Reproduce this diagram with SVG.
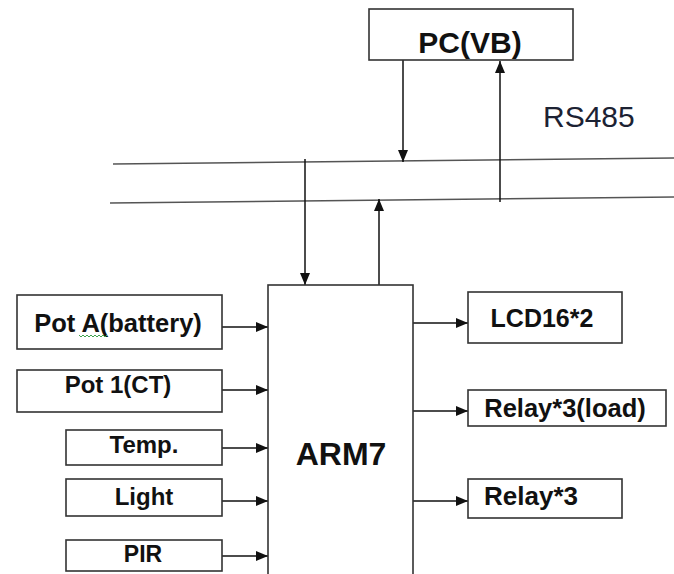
<svg xmlns="http://www.w3.org/2000/svg" width="674" height="574" viewBox="0 0 674 574">
<defs>
<style>
.box{fill:#fff;stroke:#333;stroke-width:1.6}
.ln{stroke:#111;stroke-width:1.5;fill:none}
.bus{stroke:#555;stroke-width:1.5;fill:none}
.t{font-family:"Liberation Sans",Arial,sans-serif;font-weight:bold;fill:#111;text-anchor:middle}
</style>
<marker id="ah" viewBox="0 0 12 10" refX="12" refY="5" markerWidth="12" markerHeight="10" markerUnits="userSpaceOnUse" orient="auto">
<path d="M0,0 L12,5 L0,10 z" fill="#111"/>
</marker>
</defs>
<rect width="674" height="574" fill="#fff"/>
<g id="connectors">
<line class="bus" x1="113" y1="164" x2="674" y2="158"/>
<line class="bus" x1="110" y1="203" x2="674" y2="197"/>
<line class="ln" x1="403" y1="60" x2="403" y2="162" marker-end="url(#ah)"/>
<line class="ln" x1="500" y1="202" x2="500" y2="61" marker-end="url(#ah)"/>
<line class="ln" x1="305" y1="159" x2="305" y2="285" marker-end="url(#ah)"/>
<line class="ln" x1="379" y1="285" x2="379" y2="199" marker-end="url(#ah)"/>
<line class="ln" x1="222" y1="327" x2="268" y2="327" marker-end="url(#ah)"/>
<line class="ln" x1="222" y1="390" x2="268" y2="390" marker-end="url(#ah)"/>
<line class="ln" x1="222" y1="448" x2="268" y2="448" marker-end="url(#ah)"/>
<line class="ln" x1="222" y1="501" x2="268" y2="501" marker-end="url(#ah)"/>
<line class="ln" x1="222" y1="556" x2="268" y2="556" marker-end="url(#ah)"/>
<line class="ln" x1="413" y1="323" x2="468" y2="323" marker-end="url(#ah)"/>
<line class="ln" x1="413" y1="411" x2="468" y2="411" marker-end="url(#ah)"/>
<line class="ln" x1="413" y1="501" x2="468" y2="501" marker-end="url(#ah)"/>
</g>
<g id="pc">
<rect class="box" x="369" y="9" width="204" height="51"/>
<text class="t" x="470" y="53" font-size="30">PC(VB)</text>
</g>
<g id="rs485">
<text x="543" y="127" font-family="'Liberation Sans',Arial,sans-serif" font-size="30" fill="#1c2233">RS485</text>
</g>
<g id="arm7">
<rect class="box" x="268" y="285" width="145" height="300"/>
<text class="t" x="341" y="465" font-size="32">ARM7</text>
</g>
<g id="potA">
<rect class="box" x="17" y="295" width="205" height="54"/>
<text class="t" x="118" y="332" font-size="25.5">Pot A(battery)</text>
<path d="M79,335 l2,2 l2,-2 l2,2 l2,-2 l2,2 l2,-2 l2,2 l2,-2 l2,2 l2,-2 l2,2 l2,-2 l2,2 l2,-2" fill="none" stroke="#3fa34d" stroke-width="1"/>
</g>
<g id="pot1">
<rect class="box" x="17" y="370" width="205" height="42"/>
<text class="t" x="118" y="393" font-size="24">Pot 1(CT)</text>
</g>
<g id="temp">
<rect class="box" x="66" y="430" width="156" height="35"/>
<text class="t" x="144" y="453" font-size="24">Temp.</text>
</g>
<g id="light">
<rect class="box" x="66" y="479" width="156" height="37"/>
<text class="t" x="144" y="505" font-size="24">Light</text>
</g>
<g id="pir">
<rect class="box" x="66" y="540" width="156" height="31"/>
<text class="t" x="143" y="562" font-size="23">PIR</text>
</g>
<g id="lcd">
<rect class="box" x="468" y="292" width="154" height="51"/>
<text class="t" x="542" y="327" font-size="25">LCD16*2</text>
</g>
<g id="relayload">
<rect class="box" x="468" y="390" width="198" height="36"/>
<text class="t" x="565" y="417" font-size="25.5">Relay*3(load)</text>
</g>
<g id="relay">
<rect class="box" x="468" y="479" width="154" height="39"/>
<text class="t" x="531" y="505" font-size="26">Relay*3</text>
</g>
</svg>
